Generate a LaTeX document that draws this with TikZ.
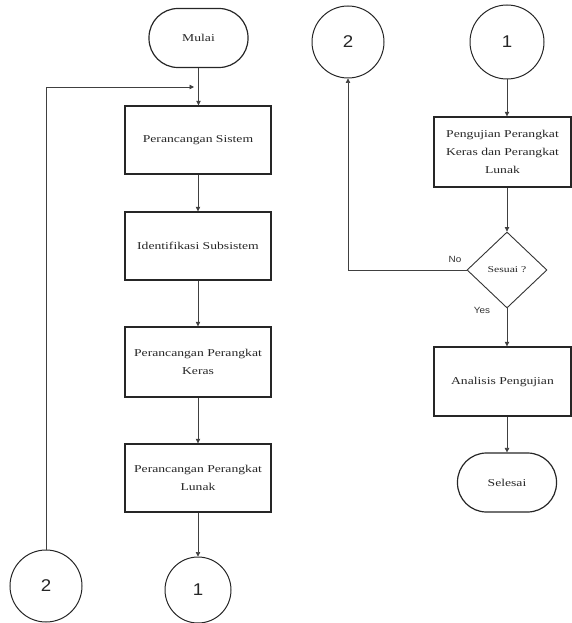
\documentclass[tikz,border=0pt]{standalone}
\usepackage{fontspec}
\setmainfont{Liberation Serif}[FakeStretch=1.3]
\newfontfamily\labelsans{Liberation Sans}[FakeStretch=1.1]
\usetikzlibrary{arrows.meta,shapes.geometric,calc}
\begin{document}
\begin{tikzpicture}[x=1pt,y=-1pt,
  every node/.style={font=\rmfamily\fontsize{10.5}{18}\selectfont, text=black!85},
  procbox/.style={draw=black!85, line width=1.4pt, rectangle, inner sep=0pt, align=center},
  termbox/.style={draw=black!85, line width=1.2pt, rectangle, rounded corners=29pt, inner sep=0pt, minimum width=99pt, minimum height=59pt},
  conn/.style={draw=black!85, line width=1pt, circle, inner sep=0pt, font=\labelsans\fontsize{17}{17}\selectfont},
  decision/.style={draw=black!80, line width=0.9pt, diamond, inner sep=0pt, minimum width=80pt, minimum height=76pt, font=\rmfamily\fontsize{9}{9}\selectfont},
  flow/.style={draw=black!75, line width=0.7pt, -{Triangle[length=4.5pt,width=4.5pt]}},
  lbl/.style={inner sep=0pt, font=\labelsans\fontsize{9}{9}\selectfont, text=black!80}
]
\useasboundingbox (0,0) rectangle (572,623);

% left column
\node[termbox] (mulai) at (198.5,38) {Mulai};
\node[procbox, minimum width=146pt, minimum height=68pt] (ps) at (198,140) {Perancangan Sistem};
\node[procbox, minimum width=146pt, minimum height=68pt] (is) at (198,246) {Identifikasi Subsistem};
\node[procbox, minimum width=146pt, minimum height=70pt] (pk) at (198,362) {Perancangan Perangkat\\Keras};
\node[procbox, minimum width=146pt, minimum height=68pt] (pl) at (198,478) {Perancangan Perangkat\\Lunak};
\node[conn, minimum size=66pt] (c1b) at (198,590) {1};
\node[conn, minimum size=72pt] (c2b) at (46,586) {2};

% right column
\node[conn, minimum size=72pt] (c2t) at (348,42) {2};
\node[conn, minimum size=74pt] (c1t) at (507,42) {1};
\node[procbox, minimum width=137pt, minimum height=70pt] (pg) at (502.5,152) {Pengujian Perangkat\\Keras dan Perangkat\\Lunak};
\node[decision] (d) at (507,270) {Sesuai ?};
\node[procbox, minimum width=137pt, minimum height=69pt] (ap) at (502.5,381.5) {Analisis Pengujian};
\node[termbox] (sel) at (507,482.5) {Selesai};

\node[lbl] (no) at (455,259) {No};
\node[lbl] (yes) at (482,310) {Yes};

% connectors
\draw[flow] (mulai.south) -- (mulai.south |- ps.north);
\draw[flow] (ps.south) -- (is.north);
\draw[flow] (is.south) -- (pk.north);
\draw[flow] (pk.south) -- (pl.north);
\draw[flow] (pl.south) -- (c1b.north);
\coordinate (j) at (194,87);
\draw[flow] (c2b.north) |- (j);

\draw[flow] (c1t.south) -- (c1t.south |- pg.north);
\draw[flow] (pg.south -| d.north) -- (d.north);
\draw[flow] (d.south) -- (d.south |- ap.north);
\draw[flow] (ap.south -| sel.north) -- (sel.north);
\draw[flow] (d.west) -| (c2t.south);
\end{tikzpicture}
\end{document}
